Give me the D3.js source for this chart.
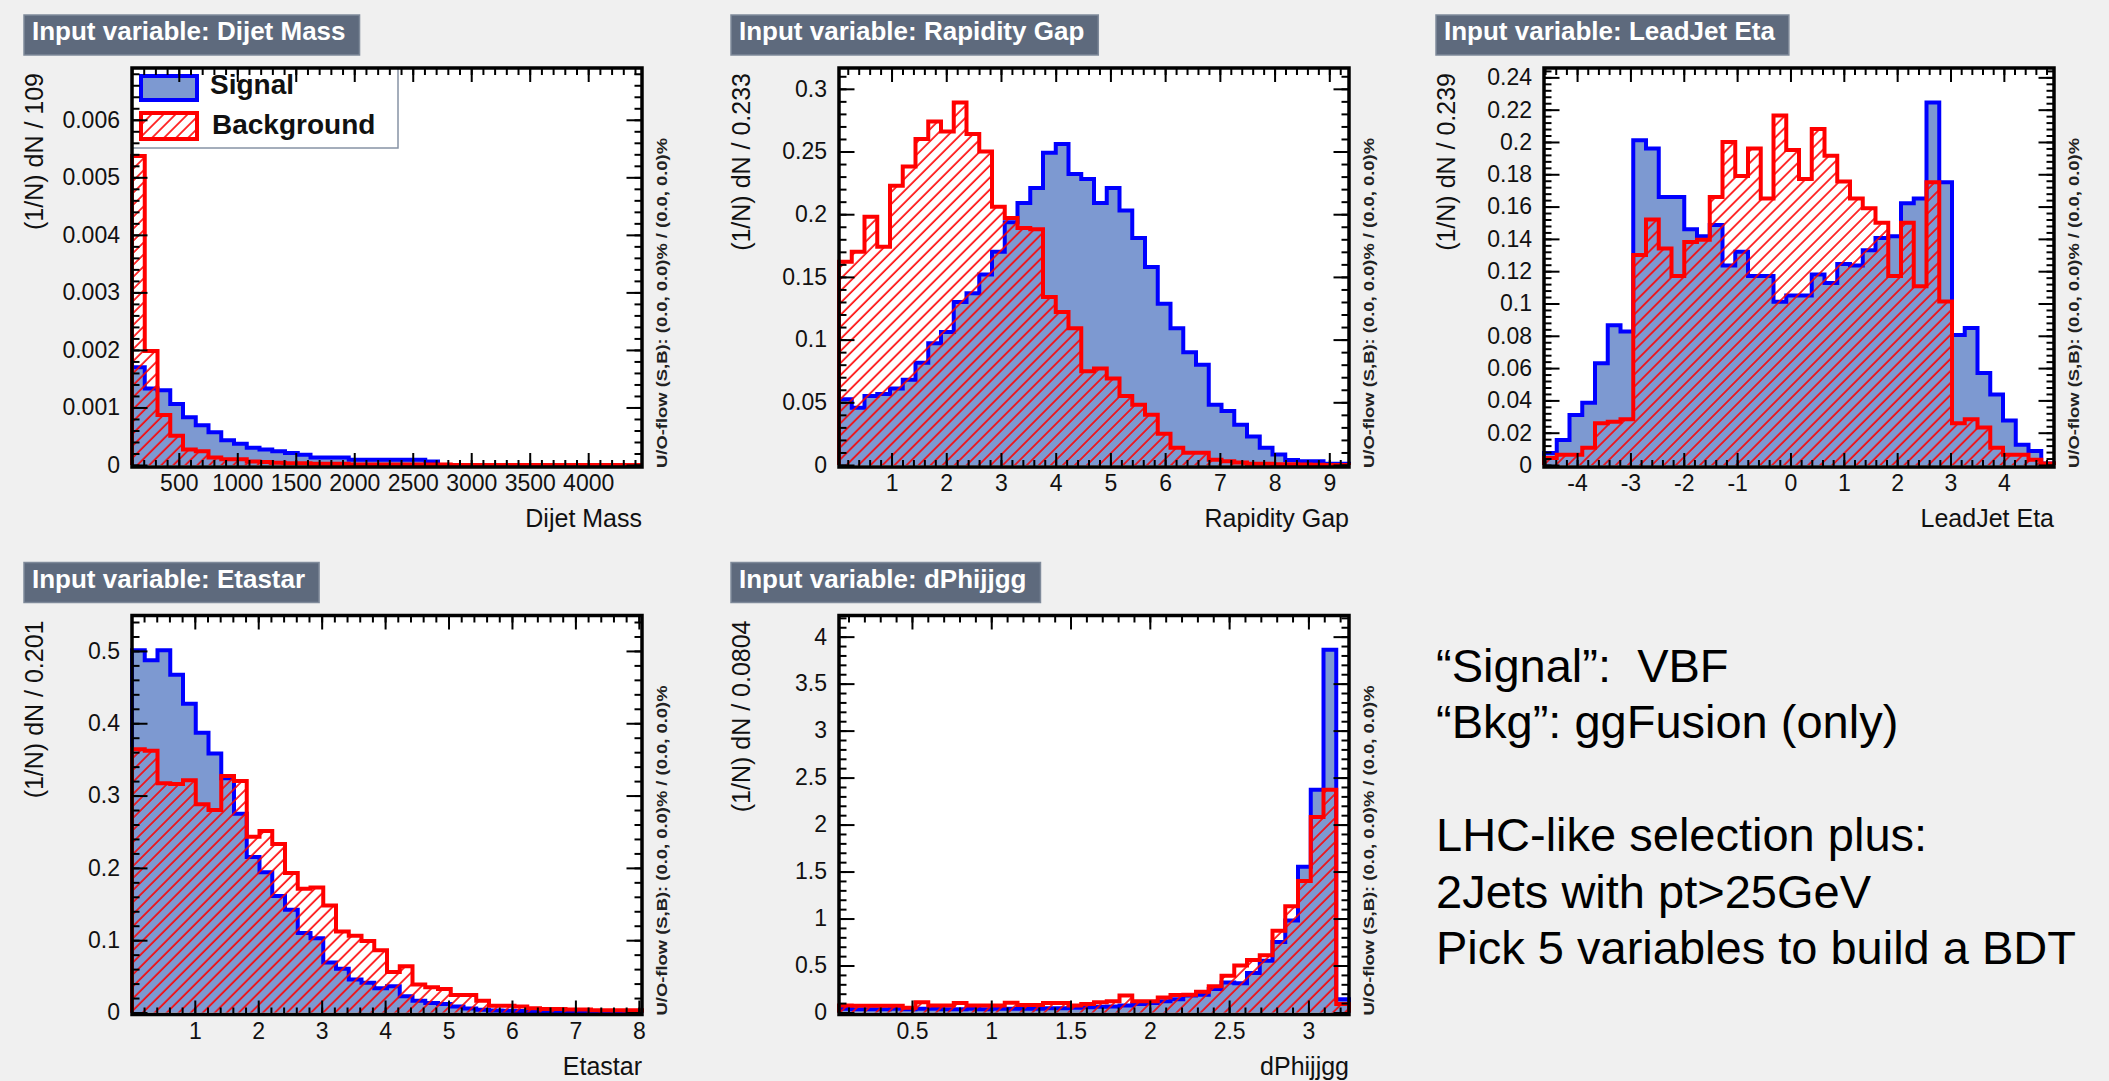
<!DOCTYPE html>
<html lang="en">
<head>
<meta charset="UTF-8">
<title>TMVA input variables</title>
<script src="https://cdn.jsdelivr.net/npm/d3@7"></script>
<style>
  body { margin: 0; background: #f0f0f0; }
  svg { display: block; font-family: "Liberation Sans", Arial, Helvetica, sans-serif; }
</style>
</head>
<body>
<script>
// normalised bin contents, 40 bins per variable
const dijetMassSig = [0.0017,0.00133,0.0013,0.00106,0.00083,0.00069,0.00057,0.00043,0.00037,0.0003,
  0.00027,0.00024,0.00021,0.00018,0.00013,0.00013,0.00013,0.00009,0.00009,0.00009,
  0.00009,0.00009,0.00009,0.00006,0,0,0,0,0,0, 0,0,0,0,0,0,0,0,0,0]
const dijetMassBkg = [0.00537,0.00198,0.00087,0.00051,0.00027,0.00024,0.00013,0.0001,0.0001,0.00006,
  0.00005,0.00004,0.00003,0.00003,0.00002,0.00002,0.00002,0.00001,0.00001,0.00001,
  0.00001,0.00001,0.00001,0.00001,0.00001,0,0,0,0,0, 0,0,0,0,0,0,0,0,0,0]

const rapGapSig = [0.0525,0.0456,0.055,0.0567,0.061,0.068,0.0816,0.097,0.106,0.13,
  0.137,0.152,0.17,0.1935,0.209,0.221,0.249,0.256,0.232,0.228,
  0.209,0.221,0.203,0.181,0.158,0.1286,0.109,0.090,0.080,0.048,
  0.043,0.032,0.0227,0.0138,0.0083,0.004,0.003,0.003,0.001,0.001]
const rapGapBkg = [0.162,0.170,0.198,0.174,0.2226,0.238,0.26,0.274,0.266,0.289,
  0.264,0.25,0.206,0.197,0.189,0.188,0.134,0.122,0.109,0.0747,
  0.077,0.069,0.055,0.048,0.040,0.025,0.0138,0.0097,0.0097,0.0041,
  0.003,0.002,0.001,0.001,0.0005,0.0005,0.0003,0.0002,0.0001,0.0001]

const leadEtaSig = [0.0075,0.0155,0.031,0.0386,0.063,0.0865,0.0827,0.201,0.196,0.166,
  0.166,0.146,0.1417,0.1486,0.1235,0.132,0.117,0.117,0.101,0.105,
  0.105,0.118,0.1127,0.1245,0.1235,0.133,0.1406,0.1417,0.162,0.165,
  0.2244,0.175,0.0805,0.0848,0.0569,0.0436,0.0275,0.0125,0.0086,0.001]
const leadEtaBkg = [0.0043,0.0064,0.0064,0.0107,0.0258,0.0268,0.0283,0.13,0.152,0.134,
  0.117,0.138,0.1395,0.166,0.2,0.179,0.196,0.165,0.2164,0.195,
  0.177,0.208,0.1915,0.1756,0.165,0.159,0.150,0.117,0.150,0.1106,
  0.175,0.1013,0.0258,0.0283,0.0232,0.0107,0.0064,0.0064,0.0032,0.001]

const etastarSig = [0.501,0.487,0.501,0.467,0.427,0.387,0.358,0.324,0.275,0.215,
  0.194,0.161,0.142,0.110,0.1026,0.069,0.0606,0.0457,0.041,0.0336,
  0.0364,0.0224,0.0163,0.013,0.0117,0.0084,0.0056,0.0037,0.0028,0.0023,
  0.002,0.0019,0.001,0.001,0.0008,0.0006,0.0005,0.0004,0.0003,0.0002]
const etastarBkg = [0.364,0.362,0.317,0.316,0.321,0.288,0.28,0.327,0.320,0.243,
  0.251,0.233,0.193,0.171,0.173,0.148,0.112,0.106,0.099,0.086,
  0.056,0.064,0.0387,0.035,0.0326,0.0242,0.0242,0.0163,0.0093,0.0093,
  0.0084,0.006,0.005,0.005,0.004,0.004,0.003,0.003,0.003,0.003]

const dphiSig = [0.04,0.035,0.035,0.035,0.04,0.035,0.04,0.04,0.035,0.035,
  0.04,0.035,0.04,0.04,0.04,0.04,0.045,0.045,0.05,0.055,
  0.06,0.065,0.075,0.09,0.1,0.12,0.14,0.18,0.19,0.25,
  0.32,0.31,0.42,0.55,0.75,0.98,1.55,2.37,3.86,0.14]
const dphiBkg = [0.075,0.072,0.072,0.072,0.072,0.05,0.11,0.075,0.075,0.1,
  0.075,0.075,0.075,0.105,0.08,0.08,0.1,0.1,0.075,0.09,
  0.11,0.12,0.18,0.12,0.12,0.16,0.185,0.19,0.22,0.28,
  0.39,0.5,0.56,0.61,0.87,1.13,1.4,2.08,2.37,0.09]

// axis tick labels
const dijetMassXTicks = [500,1000,1500,2000,2500,3000,3500,4000]
const dijetMassYTicks = [0,0.001,0.002,0.003,0.004,0.005,0.006]
const rapGapXTicks = [1,2,3,4,5,6,7,8,9]
const rapGapYTicks = [0,0.05,0.1,0.15,0.2,0.25,0.3]
const leadEtaXTicks = [-4,-3,-2,-1,0,1,2,3,4]
const leadEtaYTicks = [0,0.02,0.04,0.06,0.08,0.1,0.12,0.14,0.16,0.18,0.2,0.22,0.24]
const etastarXTicks = [1,2,3,4,5,6,7,8]
const etastarYTicks = [0,0.1,0.2,0.3,0.4,0.5]
const dphiXTicks = [0.5,1,1.5,2,2.5,3]
const dphiYTicks = [0,0.5,1,1.5,2,2.5,3,3.5,4]

const notes = ['\u201CSignal\u201D:  VBF', '\u201CBkg\u201D: ggFusion (only)', '',
  'LHC-like selection plus:', '2Jets with pt>25GeV', 'Pick 5 variables to build a BDT']

const panels = [
  { name: 'Dijet Mass', binW: '109', xMin: 100, xMax: 4460, yMax: 0.0069,
    sig: dijetMassSig, bkg: dijetMassBkg, xTicks: dijetMassXTicks, xMinor: 100,
    yTicks: dijetMassYTicks, yMinor: 0.0002, left: 132, top: 68, legend: true },
  { name: 'Rapidity Gap', binW: '0.233', xMin: 0.04, xMax: 9.36, yMax: 0.3166,
    sig: rapGapSig, bkg: rapGapBkg, xTicks: rapGapXTicks, xMinor: 0.2,
    yTicks: rapGapYTicks, yMinor: 0.01, left: 839, top: 68 },
  { name: 'LeadJet Eta', binW: '0.239', xMin: -4.62, xMax: 4.94, yMax: 0.2458,
    sig: leadEtaSig, bkg: leadEtaBkg, xTicks: leadEtaXTicks, xMinor: 0.2,
    yTicks: leadEtaYTicks, yMinor: 0.004, left: 1544, top: 68 },
  { name: 'Etastar', binW: '0.201', xMin: 0.01, xMax: 8.05, yMax: 0.549,
    sig: etastarSig, bkg: etastarBkg, xTicks: etastarXTicks, xMinor: 0.2,
    yTicks: etastarYTicks, yMinor: 0.02, left: 132, top: 615.5 },
  { name: 'dPhijjgg', binW: '0.0804', xMin: 0.04, xMax: 3.256, yMax: 4.225,
    sig: dphiSig, bkg: dphiBkg, xTicks: dphiXTicks, xMinor: 0.1,
    yTicks: dphiYTicks, yMinor: 0.1, left: 839, top: 615.5 }
]

const W = 2109, H = 1081
const frameW = 510, frameH = 399
const sigFill = '#7d99d1', sigLine = '#0000ff', bkgLine = '#ff0000'

const svg = d3.select('body').append('svg')
  .attr('width', W)
  .attr('height', H)

svg.append('rect').attr('width', W).attr('height', H).attr('fill', '#f0f0f0')

const defs = svg.append('defs')
const hatch = defs.append('pattern')
  .attr('id', 'hatch')
  .attr('patternUnits', 'userSpaceOnUse')
  .attr('width', 8.5)
  .attr('height', 8.5)
  .attr('patternTransform', 'rotate(45)')
hatch.append('line')
  .attr('x1', 1).attr('y1', 0).attr('x2', 1).attr('y2', 8.5)
  .attr('stroke', bkgLine).attr('stroke-width', 1.6)

function minorTicks(lo, hi, step) {
  const k0 = Math.ceil(lo / step - 1e-9), k1 = Math.floor(hi / step + 1e-9)
  return d3.range(k0, k1 + 1).map(k => +(k * step).toFixed(6))
}

function histPoints(vals, xMin, xMax) {
  const w = (xMax - xMin) / vals.length
  const pts = [[xMin, 0]]
  vals.forEach((v, i) => {
    pts.push([xMin + i * w, v], [xMin + (i + 1) * w, v])
  })
  pts.push([xMax, 0])
  return pts
}

function styleAxis(g, size) {
  g.select('.domain').remove()
  g.attr('font-family', null).attr('font-size', size)
  g.selectAll('line').attr('stroke', '#000').attr('stroke-width', 2)
  g.selectAll('text').attr('fill', '#111')
}

function drawPanel(p) {
  const left = p.left, top = p.top
  const right = left + frameW, bottom = top + frameH
  const g = svg.append('g')

  const x = d3.scaleLinear().domain([p.xMin, p.xMax]).range([left, right])
  const y = d3.scaleLinear().domain([0, p.yMax]).range([bottom - 2, top])

  // title box
  const tb = g.append('g')
  const tbRect = tb.append('rect')
  const tbText = tb.append('text')
    .attr('x', left - 100)
    .attr('y', top - 28)
    .attr('font-size', 26)
    .attr('font-weight', 'bold')
    .attr('fill', '#fff')
    .text('Input variable: ' + p.name)
  const tw = tbText.node().getComputedTextLength()
  tbRect.attr('x', left - 108).attr('y', top - 53)
    .attr('width', tw + 22).attr('height', 40)
    .attr('fill', '#5e6a7d').attr('stroke', '#7f8a9a').attr('stroke-width', 1.5)

  g.append('rect')
    .attr('x', left).attr('y', top)
    .attr('width', frameW).attr('height', frameH)
    .attr('fill', '#fff')

  const line = d3.line().x(d => x(d[0])).y(d => y(d[1]))
  const sigPts = histPoints(p.sig, p.xMin, p.xMax)
  const bkgPts = histPoints(p.bkg, p.xMin, p.xMax)

  g.append('path').attr('d', line(sigPts) + 'Z').attr('fill', sigFill)
  g.append('path').attr('d', line(sigPts))
    .attr('fill', 'none').attr('stroke', sigLine).attr('stroke-width', 4)
    .attr('stroke-linejoin', 'miter')
  g.append('path').attr('d', line(bkgPts) + 'Z').attr('fill', 'url(#hatch)')
  g.append('path').attr('d', line(bkgPts))
    .attr('fill', 'none').attr('stroke', bkgLine).attr('stroke-width', 4)
    .attr('stroke-linejoin', 'miter')

  if (p.legend) {
    const lg = g.append('g')
    lg.append('rect')
      .attr('x', left).attr('y', top)
      .attr('width', 266).attr('height', 80)
      .attr('fill', '#fff').attr('stroke', '#8793a5').attr('stroke-width', 1.5)
    lg.append('rect')
      .attr('x', left + 9).attr('y', top + 8).attr('width', 56).attr('height', 24)
      .attr('fill', sigFill).attr('stroke', sigLine).attr('stroke-width', 4)
    lg.append('rect')
      .attr('x', left + 9).attr('y', top + 45).attr('width', 56).attr('height', 26)
      .attr('fill', '#fff').attr('stroke', 'none')
    lg.append('rect')
      .attr('x', left + 9).attr('y', top + 45).attr('width', 56).attr('height', 26)
      .attr('fill', 'url(#hatch)').attr('stroke', bkgLine).attr('stroke-width', 4)
    lg.append('text').attr('x', left + 78).attr('y', top + 26)
      .attr('font-size', 28).attr('font-weight', 'bold').attr('fill', '#111')
      .text('Signal')
    lg.append('text').attr('x', left + 80).attr('y', top + 66)
      .attr('font-size', 28).attr('font-weight', 'bold').attr('fill', '#111')
      .text('Background')
  }

  const fmt = d => String(d)
  const xMinor = minorTicks(p.xMin, p.xMax, p.xMinor)
  const yMinor = minorTicks(0, p.yMax, p.yMinor)

  // minor ticks, all four sides, pointing inwards
  g.append('g').attr('transform', `translate(0,${bottom})`)
    .call(d3.axisBottom(x).tickValues(xMinor).tickSize(-7).tickFormat(''))
    .call(a => styleAxis(a, 23))
  g.append('g').attr('transform', `translate(0,${top})`)
    .call(d3.axisTop(x).tickValues(xMinor).tickSize(-7).tickFormat(''))
    .call(a => styleAxis(a, 23))
  g.append('g').attr('transform', `translate(${left},0)`)
    .call(d3.axisLeft(y).tickValues(yMinor).tickSize(-7.5).tickFormat(''))
    .call(a => styleAxis(a, 23))
  g.append('g').attr('transform', `translate(${right},0)`)
    .call(d3.axisRight(y).tickValues(yMinor).tickSize(-7.5).tickFormat(''))
    .call(a => styleAxis(a, 23))

  // major ticks and labels
  g.append('g').attr('transform', `translate(0,${bottom})`)
    .call(d3.axisBottom(x).tickValues(p.xTicks).tickSize(-14).tickPadding(8).tickFormat(fmt))
    .call(a => styleAxis(a, 23))
  g.append('g').attr('transform', `translate(0,${top})`)
    .call(d3.axisTop(x).tickValues(p.xTicks).tickSize(-14).tickFormat(''))
    .call(a => styleAxis(a, 23))
  g.append('g').attr('transform', `translate(${left},0)`)
    .call(d3.axisLeft(y).tickValues(p.yTicks).tickSize(-15.5).tickPadding(12).tickFormat(fmt))
    .call(a => styleAxis(a, 23))
  g.append('g').attr('transform', `translate(${right},0)`)
    .call(d3.axisRight(y).tickValues(p.yTicks).tickSize(-15.5).tickFormat(''))
    .call(a => styleAxis(a, 23))

  g.append('rect')
    .attr('x', left).attr('y', top)
    .attr('width', frameW).attr('height', frameH)
    .attr('fill', 'none').attr('stroke', '#000').attr('stroke-width', 3.5)

  // axis titles
  g.append('text')
    .attr('x', right).attr('y', bottom + 60)
    .attr('text-anchor', 'end')
    .attr('font-size', 25).attr('fill', '#111')
    .text(p.name)

  g.append('text')
    .attr('transform', `translate(${left - 89},${top + 5}) rotate(-90)`)
    .attr('text-anchor', 'end')
    .attr('font-size', 25).attr('fill', '#111')
    .text('(1/N) dN / ' + p.binW)

  g.append('text')
    .attr('transform', `translate(${right + 25},${bottom + 1}) rotate(-90)`)
    .attr('font-size', 14).attr('font-weight', 'bold').attr('fill', '#222')
    .attr('textLength', 330).attr('lengthAdjust', 'spacingAndGlyphs')
    .text('U/O-flow (S,B): (0.0, 0.0)% / (0.0, 0.0)%')
}

panels.forEach(drawPanel)

// comment text on the right
const noteY = d3.scaleLinear().domain([0, notes.length - 1]).range([682, 964])
svg.append('g').selectAll('text')
  .data(notes)
  .enter()
  .append('text')
  .attr('x', 1436)
  .attr('y', (d, i) => i < 2 ? 682 + i * 56 : noteY(i))
  .attr('font-size', 47)
  .attr('fill', '#000')
  .style('white-space', 'pre')
  .text(d => d)
</script>
</body>
</html>
